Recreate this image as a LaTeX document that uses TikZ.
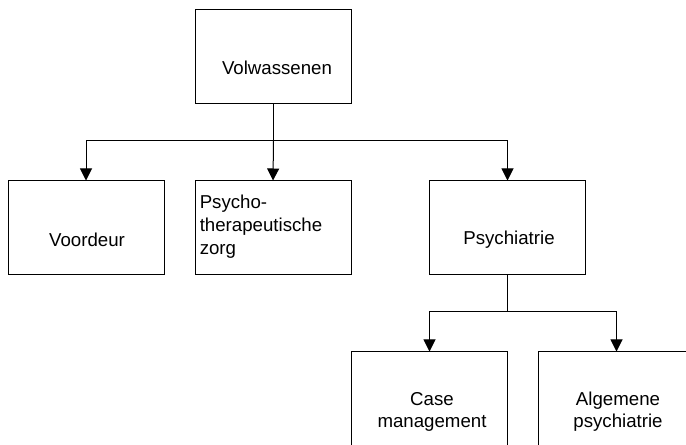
\documentclass[tikz,border=0pt]{standalone}
\usepackage{fontspec}
\setmainfont{Liberation Sans}
\usetikzlibrary{arrows.meta}
\begin{document}
\begin{tikzpicture}[x=0.75pt,y=-0.75pt,
  box/.style={draw, line width=0.75pt, minimum width=117pt, minimum height=70.5pt, inner sep=0pt},
  lbl/.style={font=\fontsize{14pt}{16.5pt}\selectfont, inner sep=0pt, align=center},
  arr/.style={line width=0.75pt, -{Triangle[length=9pt,width=9pt]}},
  wire/.style={line width=0.75pt}]
\useasboundingbox (0,0) rectangle (686,445);
\clip (0,0) rectangle (686,445);
\fill[white] (0,0) rectangle (686,445);

% boxes
\node[box] (vol)   at (273.5,56.5) {};
\node[box] (voor)  at (86,228)     {};
\node[box] (psy)   at (273,228)    {};
\node[box] (psych) at (507.5,228)  {};
\node[box] (case)  at (429.5,399)  {};
\node[box] (alg)   at (616.5,399)  {};

% labels
\node[lbl] (tvol)   at (277,68)  {Volwassenen};
\node[lbl] (tvoor)  at (87,240)  {Voordeur};
\node[lbl, font=\fontsize{14pt}{17pt}\selectfont, align=left, anchor=north west] (tpsy) at (199.5,195) {Psycho-\\therapeutische\\zorg};
\node[lbl] (tpsych) at (509,240) {Psychiatrie};
\node[lbl] (tcase)  at (432,412) {Case\\management};
\node[lbl] (talg)   at (618,412) {Algemene\\psychiatrie};

% connectors
\coordinate (j1) at (273.5,141);
\coordinate (j2) at (507.5,312);
\draw[wire] (vol.south) -- (j1);
\draw[arr] (j1) -| (voor.north);
\draw[arr] (j1) -- (psy.north);
\draw[arr] (j1) -| (psych.north);
\draw[wire] (psych.south) -- (j2);
\draw[arr] (j2) -| (case.north);
\draw[arr] (j2) -| (alg.north);
\end{tikzpicture}
\end{document}
